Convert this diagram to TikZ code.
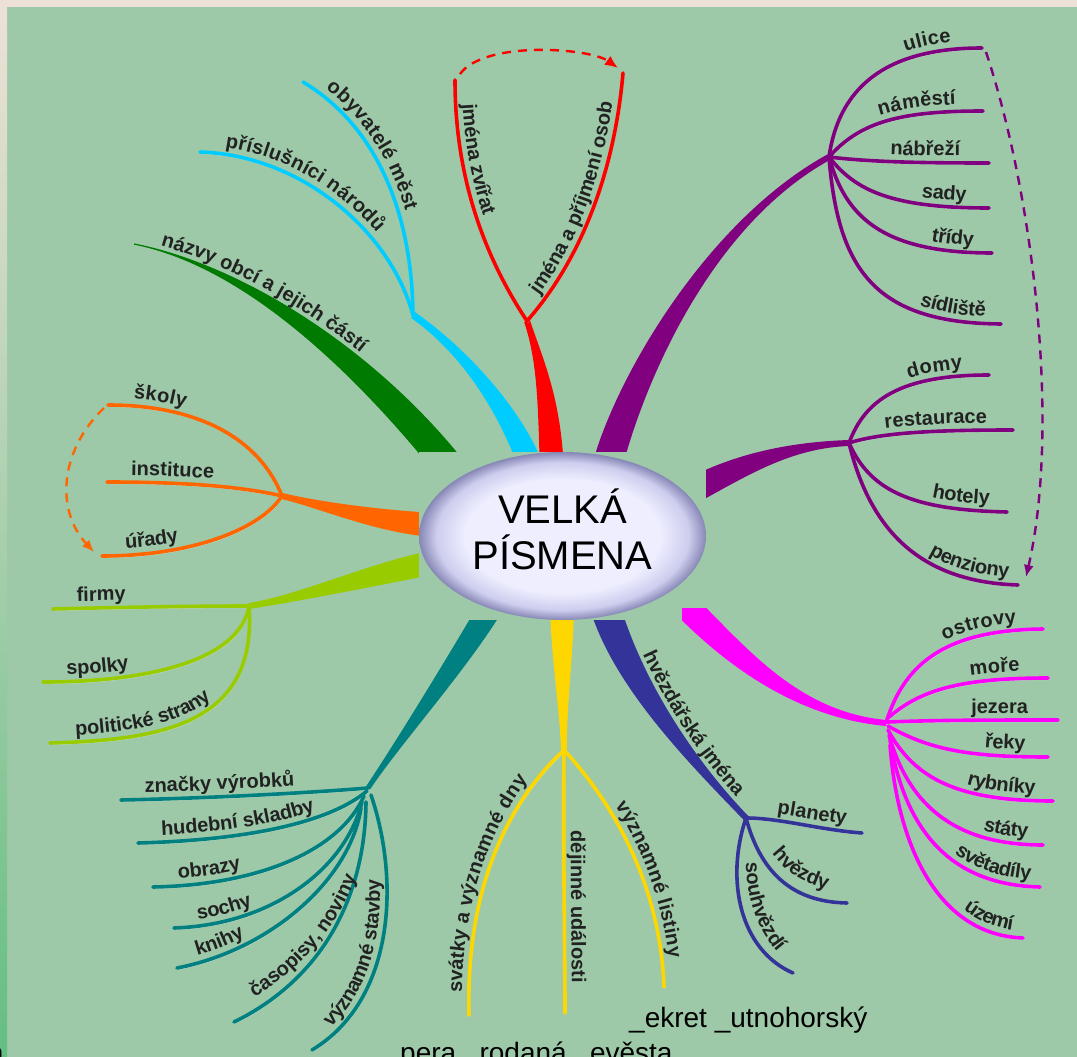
\documentclass[tikz,border=0pt]{standalone}
\usepackage{fontspec}
\newfontfamily\lsans{Liberation Sans}
\usetikzlibrary{calc,decorations.text,arrows.meta,shapes.geometric}
\definecolor{bg}{RGB}{157,201,168}
\definecolor{topstrip}{RGB}{237,225,215}
\definecolor{cGreen}{RGB}{0,122,0}
\definecolor{cCyan}{RGB}{0,204,255}
\definecolor{cRed}{RGB}{255,0,0}
\definecolor{cPurp}{RGB}{128,0,128}
\definecolor{cOrange}{RGB}{255,102,0}
\definecolor{cLime}{RGB}{153,204,0}
\definecolor{cTeal}{RGB}{0,128,128}
\definecolor{cYellow}{RGB}{255,215,0}
\definecolor{cNavy}{RGB}{51,51,153}
\definecolor{cMag}{RGB}{255,0,255}
\definecolor{txt}{RGB}{34,34,34}
\definecolor{ellin}{RGB}{238,238,255}
\definecolor{ellmid}{RGB}{205,205,238}
\definecolor{ellout}{RGB}{135,135,182}
\pgfdeclareradialshading{ellglow}{\pgfpoint{0bp}{0bp}}{color(0bp)=(ellin); color(17bp)=(ellin); color(22bp)=(ellmid); color(25bp)=(ellout); color(50bp)=(ellout)}
\newcommand\leaflbl{\lsans\bfseries\fontsize{20}{20}\selectfont}
\newcommand\mmtaper[8]{%
  \coordinate (#1a0) at ($(#3)!#7!90:(#4)$);
  \coordinate (#1a1) at ($(#4)!#7!-90:(#3)$);
  \coordinate (#1a2) at ($(#5)!#8!90:(#6)$);
  \coordinate (#1a3) at ($(#6)!#8!-90:(#5)$);
  \coordinate (#1b0) at ($(#3)!#7!-90:(#4)$);
  \coordinate (#1b1) at ($(#4)!#7!90:(#3)$);
  \coordinate (#1b2) at ($(#5)!#8!-90:(#6)$);
  \coordinate (#1b3) at ($(#6)!#8!90:(#5)$);
  \fill[#2] (#1a0) .. controls (#1a1) and (#1a2) .. (#1a3) -- (#1b3) .. controls (#1b2) and (#1b1) .. (#1b0) -- cycle;
}
\tikzset{
  leaf/.style={line width=3.6pt, line cap=round, preaction={draw=white, draw opacity=0.45, transform canvas={shift={(0.9pt,-1.8pt)}}}},
  labL/.style 2 args={postaction={decorate,decoration={text along path,text={|\leaflbl|#1},text color=txt,raise=7pt,text align={left,left indent=#2}}}},
  labR/.style 2 args={postaction={decorate,decoration={text along path,text={|\leaflbl|#1},text color=txt,raise=7pt,text align={right,right indent=#2}}}},
  labP/.style 2 args={postaction={decorate,decoration={text along path,text={|\leaflbl|#1},text color=txt,raise=2pt,text align={left,left indent=#2}}}},
  dashA/.style={line width=2.4pt, dash pattern=on 9pt off 7pt},
  btxt/.style={font=\lsans\fontsize{28}{28}\selectfont, inner sep=0pt, text=black},
  ttl/.style={font=\lsans\fontsize{40}{46}\selectfont, inner sep=0pt, text=black},
}
\begin{document}
\begin{tikzpicture}[x=1pt,y=-1pt]
\useasboundingbox (0,0) rectangle (1077,1057);
\fill[bg] (0,0) rectangle (1077,1057);
\fill[topstrip] (0,0) rectangle (1077,7);
\shade[top color=topstrip, bottom color={rgb,255:red,100;green,190;blue,130}] (0,7) rectangle (7,1057);

% hubs
\coordinate (hCy) at (413,315);
\coordinate (hRd) at (527,321);
\coordinate (hPu) at (829,157);
\coordinate (hPl) at (849,443);
\coordinate (hOr) at (282,496);
\coordinate (hLg) at (249,606);
\coordinate (hTe) at (368,788);
\coordinate (hYe) at (564,750);
\coordinate (hNv) at (746,818);
\coordinate (hMg) at (886,723);

% trunks
\mmtaper{g}{cGreen}{452,470}{360,355}{240,265}{134,244}{15pt}{0.6pt}
\mmtaper{c}{cCyan}{532,470}{515,420}{470,355}{hCy}{12pt}{3.5pt}
\mmtaper{r}{cRed}{552,475}{550,400}{540,360}{hRd}{12pt}{3pt}
\mmtaper{p}{cPurp}{605,475}{625,390}{705,225}{hPu}{15pt}{3pt}
\mmtaper{q}{cPurp}{690,492}{740,465}{790,445}{hPl}{13pt}{3pt}
\mmtaper{o}{cOrange}{435,525}{380,522}{320,505}{hOr}{12pt}{3pt}
\mmtaper{l}{cLime}{435,562}{370,575}{300,598}{hLg}{12pt}{3pt}
\mmtaper{t}{cTeal}{495,600}{460,660}{400,740}{hTe}{12pt}{2.5pt}
\mmtaper{y}{cYellow}{562,600}{562,650}{563,710}{hYe}{12pt}{3pt}
\mmtaper{n}{cNavy}{603,600}{625,680}{690,760}{hNv}{15pt}{3pt}
\mmtaper{m}{cMag}{688,608}{740,660}{800,715}{hMg}{13pt}{3pt}

% trunk labels
\path[postaction={decorate,decoration={text along path,text={|\leaflbl|názvy obcí a jejich částí},text color=txt,raise=4pt,text align={left,left indent=26pt}}}] (gb3) .. controls (gb2) and (gb1) .. (gb0);
\path[postaction={decorate,decoration={text along path,text={|\leaflbl|hvězdářská jména},text color=txt,raise=4pt,text align={right,right indent=22pt}}}] (na0) .. controls (na1) and (na2) .. (na3);

% cyan
\draw[leaf,draw=cCyan,labL={obyvatelé měst}{22pt}] (303,82) .. controls (375,125) and (412,210) .. (hCy);
\draw[leaf,draw=cCyan,labL={příslušníci národů}{24pt}] (200,152) .. controls (300,155) and (390,230) .. (hCy);
% red
\draw[leaf,draw=cRed,labL={jména zvířat}{25pt}] (455,80) .. controls (455,170) and (480,250) .. (hRd);
\draw[leaf,draw=cRed,labL={jména a příjmení osob}{28pt}] (hRd) .. controls (585,255) and (615,165) .. (623,73);
\draw[dashA,draw=cRed,-{Latex[length=13pt,width=11pt]}] (460,74) .. controls (485,40) and (590,48) .. (618,68);
% purple upper
\draw[leaf,draw=cPurp,labR={ulice}{30pt}] (hPu) .. controls (840,80) and (895,48) .. (982,48);
\draw[leaf,draw=cPurp,labR={náměstí}{27pt}] (hPu) .. controls (860,122) and (900,111) .. (983,111);
\draw[leaf,draw=cPurp,labR={nábřeží}{29pt}] (hPu) .. controls (870,162) and (920,163) .. (989,163);
\draw[leaf,draw=cPurp,labR={sady}{23pt}] (hPu) .. controls (855,190) and (890,208) .. (989,208);
\draw[leaf,draw=cPurp,labR={třídy}{19pt}] (hPu) .. controls (845,215) and (880,253) .. (992,253);
\draw[leaf,draw=cPurp,labR={sídliště}{16pt}] (hPu) .. controls (838,270) and (875,323) .. (1001,324);
% purple lower
\draw[leaf,draw=cPurp,labR={domy}{26pt}] (hPl) .. controls (865,400) and (900,375) .. (989,375);
\draw[leaf,draw=cPurp,labR={restaurace}{26pt}] (hPl) .. controls (880,433) and (930,430) .. (1013,430);
\draw[leaf,draw=cPurp,labR={hotely}{18pt}] (hPl) .. controls (870,490) and (910,510) .. (1007,512);
\draw[leaf,draw=cPurp,labR={penziony}{10pt}] (hPl) .. controls (870,530) and (920,582) .. (1018,585);
\draw[dashA,draw=cPurp,-{Latex[length=12pt,width=10pt]}] (986,52) .. controls (1035,200) and (1060,430) .. (1026,577);
% orange
\draw[leaf,draw=cOrange,labL={školy}{25pt}] (108,405) .. controls (200,405) and (260,440) .. (hOr);
\draw[leaf,draw=cOrange,labL={instituce}{24pt}] (107,482) .. controls (180,482) and (240,486) .. (hOr);
\draw[leaf,draw=cOrange,labL={úřady}{24pt}] (102,556) .. controls (190,556) and (260,530) .. (hOr);
\draw[dashA,draw=cOrange,-{Latex[length=12pt,width=10pt]}] (104,408) .. controls (60,450) and (55,510) .. (94,552);
% lime
\draw[leaf,draw=cLime,labL={firmy}{24pt}] (53,609) .. controls (130,607) and (200,606) .. (hLg);
\draw[leaf,draw=cLime,labL={spolky}{24pt}] (43,682) .. controls (150,682) and (240,660) .. (hLg);
\draw[leaf,draw=cLime,labL={politické strany}{26pt}] (50,743) .. controls (160,740) and (258,725) .. (hLg);
% teal
\draw[leaf,draw=cTeal,labL={značky výrobků}{24pt}] (121,800) .. controls (220,798) and (320,792) .. (hTe);
\draw[leaf,draw=cTeal,labL={hudební skladby}{24pt}] (138,843) .. controls (250,840) and (330,822) .. (367,791);
\draw[leaf,draw=cTeal,labL={obrazy}{26pt}] (153,887) .. controls (260,885) and (340,850) .. (364,796);
\draw[leaf,draw=cTeal,labL={sochy}{25pt}] (174,928) .. controls (270,925) and (345,870) .. (362,802);
\draw[leaf,draw=cTeal,labL={knihy}{23pt}] (177,968) .. controls (270,950) and (350,880) .. (361,808);
\draw[leaf,draw=cTeal] (234,1022) .. controls (320,980) and (365,900) .. (366,802);
\path[labP={časopisy, noviny}{2pt}] (254,1000) .. controls (300,972) and (340,930) .. (362,868);
\draw[leaf,draw=cTeal,labL={významné stavby}{30pt}] (312,1050) .. controls (395,1000) and (400,880) .. (371,795);
% yellow
\draw[leaf,draw=cYellow,labL={svátky a významné dny}{22pt}] (469,1015) .. controls (466,900) and (500,810) .. (hYe);
\draw[leaf,draw=cYellow,labR={dějinné události}{30pt}] (hYe) .. controls (563,850) and (565,950) .. (565,1013);
\draw[leaf,draw=cYellow,labR={významné listiny}{28pt}] (hYe) .. controls (610,800) and (660,880) .. (664,987);
% navy
\draw[leaf,draw=cNavy,labR={planety}{17pt}] (hNv) .. controls (780,818) and (820,830) .. (862,833);
\draw[leaf,draw=cNavy] (hNv) .. controls (760,870) and (790,902) .. (847,903);
\draw[leaf,draw=cNavy] (hNv) .. controls (725,880) and (740,950) .. (793,973);
\path[labP={hvězdy}{4pt}] (768,852) .. controls (785,875) and (805,890) .. (852,896);
\path[labP={souhvězdí}{3pt}] (744,860) .. controls (744,905) and (758,940) .. (792,970);
% magenta
\draw[leaf,draw=cMag,labR={ostrovy}{26pt}] (hMg) .. controls (905,660) and (950,630) .. (1043,629);
\draw[leaf,draw=cMag,labR={moře}{28pt}] (888,718) .. controls (920,690) and (960,678) .. (1048,678);
\draw[leaf,draw=cMag,labR={jezera}{30pt}] (888,722) .. controls (940,720) and (990,720) .. (1058,720);
\draw[leaf,draw=cMag,labR={řeky}{23pt}] (888,726) .. controls (930,750) and (970,757) .. (1048,757);
\draw[leaf,draw=cMag,labR={rybníky}{18pt}] (888,730) .. controls (915,780) and (960,801) .. (1053,801);
\draw[leaf,draw=cMag,labR={státy}{16pt}] (889,735) .. controls (910,810) and (960,845) .. (1043,845);
\draw[leaf,draw=cMag,labR={světadíly}{10pt}] (890,740) .. controls (905,830) and (950,885) .. (1040,887);
\draw[leaf,draw=cMag,labR={území}{12pt}] (890,745) .. controls (898,850) and (940,935) .. (1023,938);

% centre
\fill[bg] (419,452) rectangle (706,620);
\fill[cMag] (682,608) rectangle (706,620);
\node[ellipse, shade, shading=ellglow, minimum width=287pt, minimum height=168pt, inner sep=0pt] (ctr) at (562.5,536) {};
\node[ttl, anchor=base] (t1) at (562.5,523) {VELKÁ};
\node[ttl, anchor=base] (t2) at (562.5,569) {PÍSMENA};

% bottom texts
\node[btxt, anchor=base west] (ek) at (629,1027) {\_ekret \_utnohorský};
\node[btxt, anchor=base west] (pr) at (400,1062) {pera \_rodaná \_evěsta};
\node[btxt, anchor=base west] (fa) at (-12,1062) {a};
\end{tikzpicture}
\end{document}
